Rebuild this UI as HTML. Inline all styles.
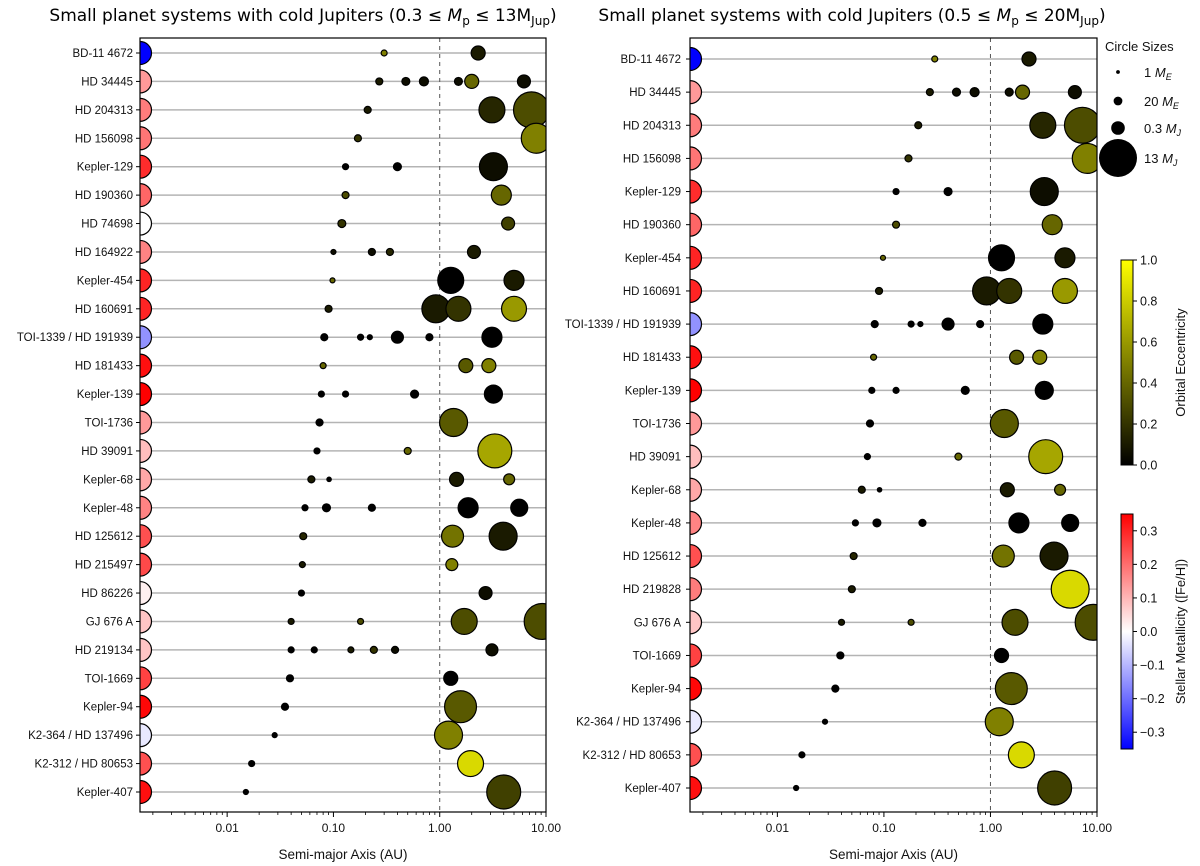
<!DOCTYPE html>
<html><head><meta charset="utf-8">
<style>
html,body{margin:0;padding:0;background:#fff;}
svg{display:block;font-family:"Liberation Sans","DejaVu Sans",sans-serif;}
</style></head>
<body>
<svg id="chart" width="1200" height="866" viewBox="0 0 1200 866" xmlns="http://www.w3.org/2000/svg">
<defs>
<linearGradient id="eccGrad" x1="0" y1="1" x2="0" y2="0"><stop offset="0" stop-color="#000"/><stop offset="1" stop-color="#ffff00"/></linearGradient>
<linearGradient id="metGrad" x1="0" y1="1" x2="0" y2="0"><stop offset="0" stop-color="#0000ff"/><stop offset="0.5" stop-color="#ffffff"/><stop offset="1" stop-color="#ff0000"/></linearGradient>
<clipPath id="clipL"><rect x="140" y="38" width="406" height="774"/></clipPath>
<clipPath id="clipR"><rect x="690" y="38" width="407" height="774"/></clipPath>
</defs>
<text x="303" y="21" text-anchor="middle" font-size="17" font-family="DejaVu Sans, sans-serif">Small planet systems with cold Jupiters (0.3 ≤ <tspan font-style="italic">M</tspan><tspan font-size="12" dy="4">p</tspan><tspan dy="-4"> ≤ 13M</tspan><tspan font-size="12" dy="4">Jup</tspan><tspan dy="-4">)</tspan></text>
<text x="852" y="21" text-anchor="middle" font-size="17" font-family="DejaVu Sans, sans-serif">Small planet systems with cold Jupiters (0.5 ≤ <tspan font-style="italic">M</tspan><tspan font-size="12" dy="4">p</tspan><tspan dy="-4"> ≤ 20M</tspan><tspan font-size="12" dy="4">Jup</tspan><tspan dy="-4">)</tspan></text>
<g id="layer"></g>
</svg>
<script>
const leftSystems = ["BD-11 4672","HD 34445","HD 204313","HD 156098","Kepler-129","HD 190360","HD 74698","HD 164922","Kepler-454","HD 160691","TOI-1339 / HD 191939","HD 181433","Kepler-139","TOI-1736","HD 39091","Kepler-68","Kepler-48","HD 125612","HD 215497","HD 86226","GJ 676 A","HD 219134","TOI-1669","Kepler-94","K2-364 / HD 137496","K2-312 / HD 80653","Kepler-407"];
const rightSystems = ["BD-11 4672","HD 34445","HD 204313","HD 156098","Kepler-129","HD 190360","Kepler-454","HD 160691","TOI-1339 / HD 191939","HD 181433","Kepler-139","TOI-1736","HD 39091","Kepler-68","Kepler-48","HD 125612","HD 219828","GJ 676 A","TOI-1669","Kepler-94","K2-364 / HD 137496","K2-312 / HD 80653","Kepler-407"];
const metalSystems = ["BD-11 4672","HD 34445","HD 204313","HD 156098","Kepler-129","HD 190360","HD 74698","HD 164922","Kepler-454","HD 160691","TOI-1339 / HD 191939","HD 181433","Kepler-139","TOI-1736","HD 39091","Kepler-68","Kepler-48","HD 125612","HD 215497","HD 86226","GJ 676 A","HD 219134","TOI-1669","Kepler-94","K2-364 / HD 137496","K2-312 / HD 80653","Kepler-407","HD 219828"];
const metalValues = [-0.35,0.14,0.18,0.19,0.29,0.21,0.0,0.17,0.3,0.3,-0.15,0.33,0.35,0.14,0.09,0.12,0.17,0.24,0.25,0.02,0.08,0.08,0.26,0.34,-0.03,0.24,0.33,0.18];
const planetHost = ["BD-11 4672","BD-11 4672",
"HD 34445","HD 34445","HD 34445","HD 34445","HD 34445","HD 34445",
"HD 204313","HD 204313","HD 204313",
"HD 156098","HD 156098",
"Kepler-129","Kepler-129","Kepler-129",
"HD 190360","HD 190360",
"HD 74698","HD 74698",
"HD 164922","HD 164922","HD 164922","HD 164922",
"Kepler-454","Kepler-454","Kepler-454",
"HD 160691","HD 160691","HD 160691","HD 160691",
"TOI-1339 / HD 191939","TOI-1339 / HD 191939","TOI-1339 / HD 191939","TOI-1339 / HD 191939","TOI-1339 / HD 191939","TOI-1339 / HD 191939",
"HD 181433","HD 181433","HD 181433",
"Kepler-139","Kepler-139","Kepler-139","Kepler-139",
"TOI-1736","TOI-1736",
"HD 39091","HD 39091","HD 39091",
"Kepler-68","Kepler-68","Kepler-68","Kepler-68",
"Kepler-48","Kepler-48","Kepler-48","Kepler-48","Kepler-48",
"HD 125612","HD 125612","HD 125612",
"HD 215497","HD 215497",
"HD 86226","HD 86226",
"GJ 676 A","GJ 676 A","GJ 676 A","GJ 676 A",
"HD 219134","HD 219134","HD 219134","HD 219134","HD 219134","HD 219134",
"TOI-1669","TOI-1669",
"Kepler-94","Kepler-94",
"K2-364 / HD 137496","K2-364 / HD 137496",
"K2-312 / HD 80653","K2-312 / HD 80653",
"Kepler-407","Kepler-407",
"HD 219828","HD 219828"];
const planetA = [0.30,2.3,
0.27,0.48,0.71,1.5,2.0,6.2,
0.21,3.1,7.3,
0.17,8.1,
0.13,0.40,3.2,
0.13,3.8,
0.12,4.4,
0.10,0.23,0.34,2.1,
0.098,1.27,5.0,
0.09,0.92,1.5,5.0,
0.082,0.18,0.22,0.40,0.80,3.1,
0.08,1.76,2.9,
0.077,0.13,0.58,3.2,
0.074,1.35,
0.07,0.50,3.3,
0.062,0.091,1.44,4.5,
0.054,0.086,0.23,1.85,5.6,
0.052,1.32,3.95,
0.051,1.3,
0.05,2.7,
0.04,0.18,1.7,9.2,
0.04,0.066,0.146,0.24,0.38,3.1,
0.039,1.27,
0.035,1.57,
0.028,1.21,
0.017,1.95,
0.015,4.0,
0.05,5.6];
const planetMass = [5.1,106,
8.9,14,22,14,106,80,
8.9,955,3050,
8.9,1600,
5.1,14,1250,
8.9,376,
14,80,
2.7,8.9,8.9,80,
2.7,955,376,
8.9,1250,830,830,
8.9,5.1,2.7,60,8.9,376,
5.1,106,106,
5.1,5.1,14,260,
8.9,1250,
5.1,8.9,2490,
8.9,1.7,106,44,
5.1,14,8.9,376,210,
8.9,528,1250,
5.1,60,
5.1,80,
5.1,5.1,955,3050,
5.1,5.1,5.1,8.9,8.9,60,
8.9,106,
8.9,2000,
2.7,1250,
5.1,955,
2.7,2490,
8.9,3700];
const planetEcc = [0.5,0.1,
0.1,0.05,0.05,0.05,0.4,0.05,
0.1,0.15,0.3,
0.2,0.5,
0,0,0.05,
0.3,0.4,
0.2,0.25,
0.05,0.05,0.15,0.1,
0.4,0,0.1,
0.1,0.1,0.2,0.6,
0,0,0,0,0,0,
0.4,0.35,0.5,
0,0,0,0,
0,0.35,
0,0.4,0.65,
0.1,0,0.1,0.4,
0,0,0,0,0,
0.15,0.45,0.1,
0.1,0.5,
0,0.05,
0.1,0.3,0.3,0.3,
0,0,0.1,0.2,0.05,0.05,
0,0,
0,0.35,
0,0.5,
0,0.85,
0,0.25,
0.1,0.85];
const xTickValues = [0.01,0.1,1,10];
const xTickLabels = ["0.01","0.10","1.00","10.00"];
const eccTicks = [0,0.2,0.4,0.6,0.8,1.0];
const eccTickLabels = ["0.0","0.2","0.4","0.6","0.8","1.0"];
const metTicks = [-0.3,-0.2,-0.1,0,0.1,0.2,0.3];
const metTickLabels = ["\u22120.3","\u22120.2","\u22120.1","0.0","0.1","0.2","0.3"];
const legendMasses = [1,20,95.4,4132];
const legendLabels = ["1 ","20 ","0.3 ","13 "];
const legendUnits = ["E","E","J","J"];

const NS = "http://www.w3.org/2000/svg";
const layer = document.getElementById("layer");
function mk(tag, attrs, parent){
  const e = document.createElementNS(NS, tag);
  for (const k in attrs) e.setAttribute(k, attrs[k]);
  (parent||layer).appendChild(e);
  return e;
}
function radius(m){ return 1.9*Math.pow(m,0.28); }
function eccColor(e){ const v=Math.round(255*Math.max(0,Math.min(1,e))); return `rgb(${v},${v},0)`; }
function metColor(z){
  let t=(z+0.35)/0.7; t=Math.max(0,Math.min(1,t));
  if(t<0.5){ const v=Math.round(255*t*2); return `rgb(${v},${v},255)`; }
  const v=Math.round(255*(1-t)*2); return `rgb(255,${v},${v})`;
}
const LMIN=-2.82, LMAX=1;
function drawPanel(cfg){
  const {left,right,top,bottom,systems,y0,dy,clip,key,labelX} = cfg;
  const xs = a => left + (Math.log10(a)-LMIN)/(LMAX-LMIN)*(right-left);
  const ys = i => y0 + i*dy;
  const g = mk("g",{});
  
  
  const plot = mk("g",{"clip-path":`url(#${clip})`},g);
  systems.forEach((s,i)=>{
    const ln = mk("line",{x1:left,x2:right,y1:ys(i),y2:ys(i),stroke:"#b4b4b4","stroke-width":1.5},plot);
    
    
  });
  const dl = mk("line",{x1:xs(1),x2:xs(1),y1:top,y2:bottom,stroke:"#555","stroke-width":1,"stroke-dasharray":"4,4"},plot);
  
  
  systems.forEach((s,i)=>{
    const z = metalValues[metalSystems.indexOf(s)];
    const c = mk("circle",{cx:left,cy:ys(i),r:11.5,fill:metColor(z),stroke:"#000","stroke-width":1.2},plot);
    
    
    const t = mk("text",{x:labelX,y:ys(i)+4,"text-anchor":"end","font-size":"11.5",fill:"#111"},g);
    t.textContent = s;
    
    
    const tk = mk("line",{x1:left-4,x2:left,y1:ys(i),y2:ys(i),stroke:"#000"},g);
    
    
  });
  planetHost.forEach((h,k)=>{
    const i = systems.indexOf(h);
    if(i<0) return;
    const c = mk("circle",{cx:xs(planetA[k]),cy:ys(i),r:radius(planetMass[k]),fill:eccColor(planetEcc[k]),stroke:"#000","stroke-width":1.2},plot);
    
    
  });
  const fr = mk("rect",{x:left,y:top,width:right-left,height:bottom-top,fill:"none",stroke:"#000","stroke-width":1.2},g);
  
  
  for(let d=-3; d<=1; d++){
    for(let m=1; m<=9; m++){
      const v = m*Math.pow(10,d);
      const lv = Math.log10(v);
      if(lv<LMIN-1e-9||lv>LMAX+1e-9) continue;
      const major = m===1;
      const tk = mk("line",{x1:xs(v),x2:xs(v),y1:bottom,y2:bottom+(major?5:3),stroke:"#000","stroke-width":major?1:0.8},g);
      
      
    }
  }
  xTickValues.forEach((v,j)=>{
    const t = mk("text",{x:xs(v),y:bottom+20,"text-anchor":"middle","font-size":"12",fill:"#111"},g);
    t.textContent = xTickLabels[j];
    
    
  });
  const xt = mk("text",{x:(left+right)/2,y:bottom+47,"text-anchor":"middle","font-size":"13.5",fill:"#111"},g);
  xt.textContent = "Semi-major Axis (AU)";
  
  
}
drawPanel({left:140,right:546,top:38,bottom:812,systems:leftSystems,y0:53,dy:(792-53)/26,clip:"clipL",key:"left",labelX:133});
drawPanel({left:690,right:1097,top:38,bottom:812,systems:rightSystems,y0:59,dy:(788-59)/22,clip:"clipR",key:"right",labelX:681});

const lg = mk("g",{});


const lt = mk("text",{x:1105,y:51,"font-size":"13",fill:"#111"},lg);
lt.textContent = "Circle Sizes";


const legY=[72,101,128,158];
legendMasses.forEach((m,j)=>{
  const r = Math.min(radius(m),19);
  const c = mk("circle",{cx:1118,cy:legY[j],r:r,fill:"#000"},lg);
  
  
  const t = mk("text",{x:1144,y:legY[j]+5,"font-size":"13",fill:"#111"},lg);
  
  
  t.appendChild(document.createTextNode(legendLabels[j]));
  const ts = mk("tspan",{"font-style":"italic"},t); ts.textContent="M";
  const ts2 = mk("tspan",{"font-style":"italic","font-size":"9",dy:"3"},t); ts2.textContent=legendUnits[j];
});

function colorbar(cfg){
  const {y0,y1,vmin,vmax,ticks,labels,grad,title,key} = cfg;
  const g = mk("g",{});
  
  
  const r = mk("rect",{x:1121,y:y0,width:12,height:y1-y0,fill:`url(#${grad})`,stroke:"#000","stroke-width":1},g);
  
  
  const ys = v => y1 - (v-vmin)/(vmax-vmin)*(y1-y0);
  ticks.forEach((v,j)=>{
    const tk = mk("line",{x1:1133,x2:1137,y1:ys(v),y2:ys(v),stroke:"#000"},g);
    
    
    const t = mk("text",{x:1140,y:ys(v)+4.5,"font-size":"12.5",fill:"#111"},g);
    t.textContent = labels[j];
    
    
  });
  const cy=(y0+y1)/2;
  const t = mk("text",{x:1185,y:cy,"font-size":"13","text-anchor":"middle",fill:"#111",transform:`rotate(-90 1185 ${cy})`},g);
  t.textContent = title;
  
  
}
colorbar({y0:260,y1:465,vmin:0,vmax:1,ticks:eccTicks,labels:eccTickLabels,grad:"eccGrad",title:"Orbital Eccentricity",key:"eccentricity-colorbar"});
colorbar({y0:514,y1:749,vmin:-0.35,vmax:0.35,ticks:metTicks,labels:metTickLabels,grad:"metGrad",title:"Stellar Metallicity ([Fe/H])",key:"metallicity-colorbar"});
</script>
</body></html>
